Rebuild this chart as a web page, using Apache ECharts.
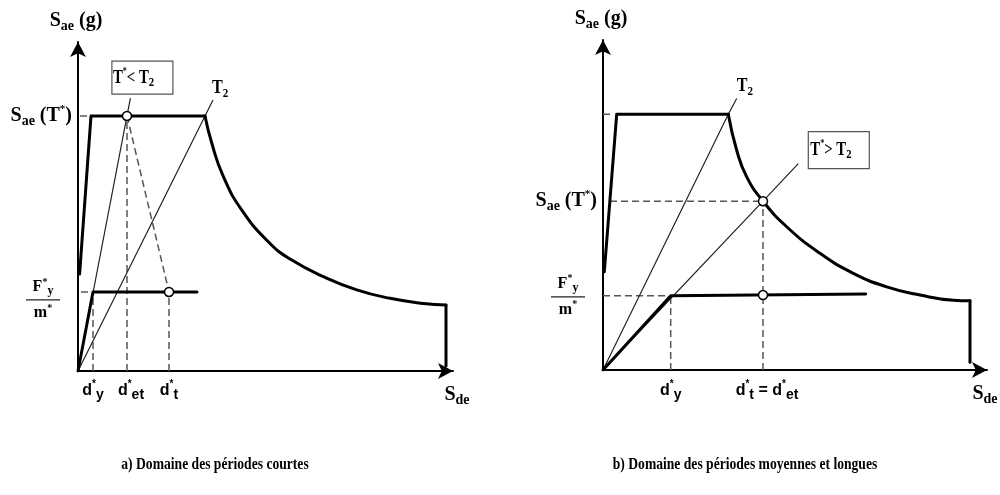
<!DOCTYPE html>
<html>
<head>
<meta charset="utf-8">
<style>
  html, body { margin: 0; padding: 0; background: #fff; }
  #chart { width: 1000px; height: 495px; }
</style>
<script src="https://cdn.jsdelivr.net/npm/echarts@6/dist/echarts.min.js"></script>
</head>
<body>
<div id="chart"></div>
<script>
// Capacity spectrum (ADRS) construction — N2 method, two period domains.
// x: spectral displacement Sde (arbitrary units), y: spectral acceleration Sae (normalised, plateau = 1).

// ---- a) short periods (T* < T2) ----
const spectrumA   = [[0.8, 0.38], [6.5, 1.0], [63.5, 1.0]];
const decayA      = [[63.5, 1.0], [66.9, 0.893], [72.7, 0.762], [81.9, 0.631], [96, 0.5], [106.9, 0.435],
                     [122.7, 0.37], [139.4, 0.318], [156, 0.285], [172.7, 0.265], [184, 0.259]];
const cutoffA     = [[184, 0.259], [184, 0.02]];
const bilinearA   = [[0, 0], [7.5, 0.31], [59.5, 0.31]];
const periodTA    = [[0, 0], [24.5, 1.0], [26.2, 1.07]];
const periodT2A   = [[0, 0], [63.5, 1.0], [67.5, 1.063]];
const equalEnA    = [[24.5, 1.0], [45.5, 0.31]];
const targetsA    = [[24.5, 1.0], [45.5, 0.31]];
const ticksA      = [7.5, 24.5, 45.5];          // d*y, d*et, d*t
const levelsA     = [1.0, 0.31];                // Sae(T*), F*y/m*

// ---- b) medium and long periods (T* > T2) ----
const spectrumB   = [[0.65, 0.384], [6.85, 1.0], [62.65, 1.0]];
const decayB      = [[62.65, 1.0], [66.85, 0.859], [71.85, 0.755], [80, 0.66], [91.85, 0.56], [108.5, 0.456],
                     [125.15, 0.378], [141.85, 0.325], [158.5, 0.293], [175.15, 0.273], [183.5, 0.271]];
const cutoffB     = [[183.5, 0.271], [183.5, 0.03]];
const bilinearB   = [[0, 0], [33.85, 0.29], [131.35, 0.297]];
const periodTB    = [[0, 0], [80, 0.66], [97.65, 0.807]];
const periodT2B   = [[0, 0], [62.65, 1.0], [66.85, 1.061]];
const targetsB    = [[80, 0.66], [80, 0.293]];
const ticksB      = [33.85, 80];                // d*y, d*t = d*et
const levelsB     = [1.0, 0.66, 0.29];          // plateau, Sae(T*), F*y/m*

const xMax = [187.5, 192];
const yMax = 1.29;

const THICK = { color: '#000', width: 3, cap: 'round', join: 'round' };
const THIN  = { color: '#222', width: 1.2 };
const DASH  = { color: '#555', width: 1.5, type: [7, 4] };

function line(g, data, style, extra) {
  return Object.assign({
    type: 'line', xAxisIndex: g, yAxisIndex: g, data: data,
    symbol: 'none', showSymbol: false, silent: true, animation: false,
    lineStyle: style, z: 2
  }, extra || {});
}
function dots(g, data) {
  return {
    type: 'scatter', xAxisIndex: g, yAxisIndex: g, data: data, symbol: 'circle', symbolSize: 9,
    silent: true, animation: false, z: 6,
    itemStyle: { color: '#fff', borderColor: '#000', borderWidth: 1.5, opacity: 1 }
  };
}
function axis(g, max) {
  return {
    type: 'value', gridIndex: g, min: 0, max: max,
    axisLine: { show: true, onZero: false, symbol: ['none', 'arrow'], symbolSize: [12, 15],
                lineStyle: { color: '#000', width: 2 } },
    axisTick: { show: false }, axisLabel: { show: false }, splitLine: { show: false }
  };
}

const series = [
  // a)
  line(0, [[ticksA[0], 0], [ticksA[0], levelsA[1]]], DASH),
  line(0, [[ticksA[1], 0], [ticksA[1], levelsA[0]]], DASH),
  line(0, [[ticksA[2], 0], [ticksA[2], levelsA[1]]], DASH),
  line(0, [[1.5, levelsA[1]], [ticksA[0], levelsA[1]]], DASH),
  line(0, [[1, levelsA[0]], [5, levelsA[0]]], DASH),
  line(0, equalEnA, DASH),
  line(0, periodTA, THIN),
  line(0, periodT2A, THIN),
  line(0, spectrumA, THICK, { z: 3 }),
  line(0, decayA, THICK, { z: 3, smooth: 0.5 }),
  line(0, cutoffA, THICK, { z: 3 }),
  line(0, bilinearA, THICK, { z: 3 }),
  dots(0, targetsA),
  // b)
  line(1, [[0, levelsB[0]], [4.5, levelsB[0]]], DASH),
  line(1, [[3.5, levelsB[1]], [ticksB[1], levelsB[1]]], DASH),
  line(1, [[0, levelsB[2]], [ticksB[0], levelsB[2]]], DASH),
  line(1, [[ticksB[0], 0], [ticksB[0], levelsB[2]]], DASH),
  line(1, [[ticksB[1], 0], [ticksB[1], levelsB[1]]], DASH),
  line(1, periodTB, THIN),
  line(1, periodT2B, THIN),
  line(1, spectrumB, THICK, { z: 3 }),
  line(1, decayB, THICK, { z: 3, smooth: 0.5 }),
  line(1, cutoffB, THICK, { z: 3 }),
  line(1, bilinearB, THICK, { z: 3 }),
  dots(1, targetsB)
];

const chart = echarts.init(document.getElementById('chart'), null, { renderer: 'canvas' });
chart.setOption({
  backgroundColor: '#fff',
  animation: false,
  grid: [
    { left: 78, top: 42, width: 375, height: 329 },
    { left: 603, top: 40, width: 384, height: 330 }
  ],
  xAxis: [axis(0, xMax[0]), axis(1, xMax[1])],
  yAxis: [axis(0, yMax), axis(1, yMax)],
  series: series
});

// ---- annotations ----
const SERIF = '"Liberation Serif", "DejaVu Serif", serif';
const SANS  = '"Liberation Sans", Arial, sans-serif';
function serif(main, sub, sup, lh) {
  return {
    n:   { fontFamily: SERIF, fontWeight: 'bold', fontSize: main, lineHeight: lh, fill: '#000' },
    sub: { fontFamily: SERIF, fontWeight: 'bold', fontSize: sub, lineHeight: sub, verticalAlign: 'bottom', fill: '#000' },
    sup: { fontFamily: SERIF, fontWeight: 'bold', fontSize: sup, lineHeight: sup, verticalAlign: 'top', fill: '#000' }
  };
}
const axisRich = serif(20, 14, 11, 25);
const tRich    = serif(19, 13, 11, 24);
const boxRich  = serif(18, 13, 10, 23);
const fracRich = serif(16, 12, 10, 20);
const sansRich = {
  n:   { fontFamily: SANS, fontWeight: 'bold', fontSize: 16, lineHeight: 23, fill: '#000' },
  sub: { fontFamily: SANS, fontWeight: 'bold', fontSize: 14, lineHeight: 13, verticalAlign: 'bottom', fill: '#000' },
  sup: { fontFamily: SANS, fontWeight: 'bold', fontSize: 10, lineHeight: 10, verticalAlign: 'top', fill: '#000' }
};
function txt(text, x, y, align, rich, scaleX) {
  return { type: 'text', x: x, y: y, scaleX: scaleX || 1, silent: true, z: 10,
    style: { text: text, x: 0, y: 0, align: align, verticalAlign: 'middle', rich: rich } };
}
function rule(x1, y1, x2, y2, w, c) {
  return { type: 'line', silent: true, z: 10,
    shape: { x1: x1, y1: y1, x2: x2, y2: y2 }, style: { stroke: c || '#000', lineWidth: w || 1.5 } };
}
function box(x, y, w, h) {
  return { type: 'rect', silent: true, z: 9, shape: { x: x, y: y, width: w, height: h },
    style: { fill: '#fff', stroke: '#555', lineWidth: 1.2 } };
}
const P = (g, pt) => chart.convertToPixel({ gridIndex: g }, pt);

const g = [];
// axis titles
[0, 1].forEach(function (k) {
  const top = P(k, [0, yMax]);
  const end = P(k, [xMax[k], 0]);
  g.push(txt('{n|S}{sub|ae}{n| (g)}', top[0] - 2, top[1] - 21, 'center', axisRich));
  g.push(txt('{n|S}{sub|de}', end[0] + (k === 0 ? 4 : -2), end[1] + 24, 'center', axisRich));
});
// level labels
const platA = P(0, [0, levelsA[0]]);
g.push(txt('{n|S}{sub|ae}{n| (T}{sup|*}{n|)}', platA[0] - 6, platA[1], 'right', axisRich));
const saeB = P(1, [0, levelsB[1]]);
g.push(txt('{n|S}{sub|ae}{n| (T}{sup|*}{n|)}', saeB[0] - 6, saeB[1], 'right', axisRich));
function fraction(k, level, dy) {
  const p = P(k, [0, level]);
  const cx = p[0] - 35, cy = p[1] + dy;
  g.push(rule(cx - 17, cy, cx + 17, cy, 1.3, '#222'));
  g.push(txt('{n|F}{sup|*}{sub|y}', cx, cy - 13, 'center', fracRich));
  g.push(txt('{n|m}{sup|*}', cx, cy + 13, 'center', fracRich));
}
fraction(0, levelsA[1], 8);
fraction(1, levelsB[2], 1);
// displacement labels
const yLab = 391;
g.push(txt('{n|d}{sup|*}{sub|y}', P(0, [ticksA[0], 0])[0], yLab, 'center', sansRich));
g.push(txt('{n|d}{sup|*}{sub|et}', P(0, [ticksA[1], 0])[0] + 4, yLab, 'center', sansRich));
g.push(txt('{n|d}{sup|*}{sub|t}', P(0, [ticksA[2], 0])[0], yLab, 'center', sansRich));
g.push(txt('{n|d}{sup|*}{sub|y}', P(1, [ticksB[0], 0])[0], yLab, 'center', sansRich));
g.push(txt('{n|d}{sup|*}{sub|t}{n| = d}{sup|*}{sub|et}', P(1, [ticksB[1], 0])[0] + 4, yLab, 'center', sansRich));
// T2 labels at the ends of the corner-period rays
const t2A = P(0, periodT2A[2]);
g.push(txt('{n|T}{sub|2}', t2A[0] - 1, t2A[1] - 12, 'left', tRich, 0.85));
const t2B = P(1, periodT2B[2]);
g.push(txt('{n|T}{sub|2}', t2B[0], t2B[1] - 12, 'left', tRich, 0.85));
// boxed period comparisons
const tA = P(0, periodTA[2]);
g.push(box(tA[0] - 18.5, tA[1] - 37, 61, 33));
g.push(txt('{n|T}{sup|*}{n|< T}{sub|2}', tA[0] - 17.5, tA[1] - 20, 'left', boxRich, 0.82));
const tB = P(1, periodTB[2]);
g.push(box(tB[0] + 10, tB[1] - 32, 61, 37));
g.push(txt('{n|T}{sup|*}{n|> T}{sub|2}', tB[0] + 12, tB[1] - 13.5, 'left', boxRich, 0.82));
// captions
const capRich = { c: { fontFamily: SERIF, fontWeight: 'bold', fontSize: 16, fill: '#000' } };
g.push(txt('{c|a) Domaine des périodes courtes}', 215, 465, 'center', capRich, 0.85));
g.push(txt('{c|b) Domaine des périodes moyennes et longues}', 745, 465, 'center', capRich, 0.85));

chart.setOption({ graphic: { elements: g } });
</script>
</body>
</html>
